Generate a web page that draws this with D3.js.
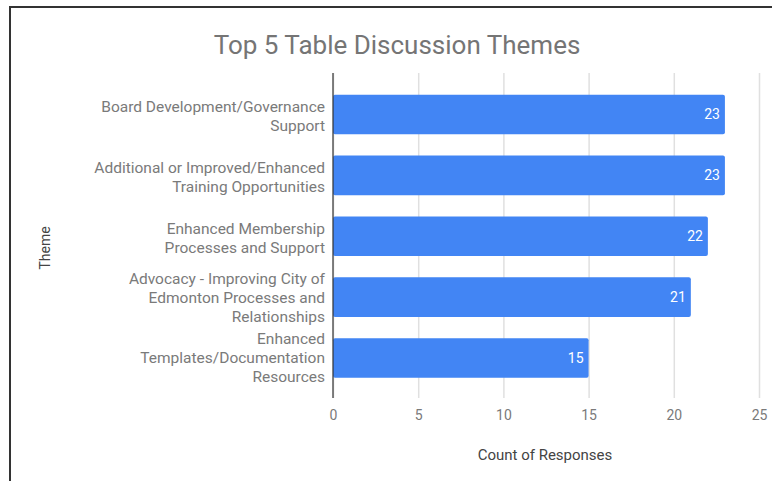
<!DOCTYPE html>
<html>
<head>
<meta charset="utf-8">
<script src="https://cdn.jsdelivr.net/npm/d3@7"></script>
<style>
  body { margin: 0; background: #fff; }
  svg { display: block; font-family: Roboto, Arial, sans-serif; }
</style>
</head>
<body>
<svg id="chart"></svg>
<script>
// chart values
const categories = [
    "Board Development/Governance\nSupport",
    "Additional or Improved/Enhanced\nTraining Opportunities",
    "Enhanced Membership\nProcesses and Support",
    "Advocacy - Improving City of\nEdmonton Processes and\nRelationships",
    "Enhanced\nTemplates/Documentation\nResources"
];
const counts = [23, 23, 22, 21, 15];
const xTicks = [0, 5, 10, 15, 20, 25];

const width = 772, height = 481;
const margin = { top: 73, bottom: 83, left: 333, right: 13 };

const svg = d3.select('#chart')
    .attr('width', width)
    .attr('height', height);

// outer frame (cropped screenshot)
svg.append('rect')
    .attr('x', 10).attr('y', 7)
    .attr('width', 900).attr('height', 600)
    .attr('fill', 'none')
    .attr('stroke', '#333')
    .attr('stroke-width', 2);

const plotBottom = height - margin.bottom;

const xScale = d3.scaleLinear()
    .domain([0, 25])
    .range([margin.left, width - margin.right]);

const yScale = d3.scaleBand()
    .domain(categories)
    .range([margin.top + 11, plotBottom - 9.5])
    .paddingInner(0.35)
    .paddingOuter(0.175);

// gridlines + x tick labels
const xAxis = d3.axisBottom(xScale)
    .tickValues(xTicks)
    .tickSize(-(plotBottom - margin.top))
    .tickPadding(12)
    .tickSizeOuter(0);

const xAxisGroup = svg.append('g')
    .attr('transform', `translate(0,${plotBottom})`)
    .call(xAxis);
xAxisGroup.select('.domain').remove();
xAxisGroup.selectAll('line')
    .attr('stroke', '#e0e0e0')
    .attr('stroke-width', 1.5);
xAxisGroup.selectAll('text')
    .attr('fill', '#7a7a7a')
    .attr('font-size', 14)
    .attr('font-family', 'Roboto, Arial, sans-serif');

// bars
svg.append('g').selectAll('rect')
    .data(counts)
    .join('rect')
        .attr('x', xScale(0))
        .attr('y', (d, i) => yScale(categories[i]))
        .attr('width', d => xScale(d) - xScale(0))
        .attr('height', yScale.bandwidth())
        .attr('rx', 2)
        .attr('fill', '#4285f4');

// zero line
svg.append('line')
    .attr('x1', xScale(0)).attr('x2', xScale(0))
    .attr('y1', margin.top).attr('y2', plotBottom)
    .attr('stroke', '#333')
    .attr('stroke-width', 1.2);

// value labels
svg.append('g').selectAll('text')
    .data(counts)
    .join('text')
        .attr('x', d => xScale(d) - 5)
        .attr('y', (d, i) => yScale(categories[i]) + yScale.bandwidth() / 2)
        .attr('dy', '0.35em')
        .attr('text-anchor', 'end')
        .attr('fill', '#fff')
        .attr('font-size', 14)
        .text(d => d);

// category labels (wrapped)
const lineHeight = 19;
const catLabels = svg.append('g').selectAll('text')
    .data(categories)
    .join('text')
        .attr('text-anchor', 'end')
        .attr('fill', '#7a7a7a')
        .attr('font-size', 15.5);

catLabels.each(function(d) {
    const lines = d.split('\n');
    const cy = yScale(d) + yScale.bandwidth() / 2;
    const y0 = cy - (lines.length - 1) * lineHeight / 2 + (lines.length === 2 ? 2 : 0);
    d3.select(this).selectAll('tspan')
        .data(lines)
        .join('tspan')
            .attr('x', margin.left - 8)
            .attr('y', (l, j) => y0 + j * lineHeight)
            .attr('dy', '0.35em')
            .text(l => l);
});

// title
svg.append('text')
    .attr('x', 397)
    .attr('y', 54)
    .attr('text-anchor', 'middle')
    .attr('fill', '#757575')
    .attr('font-size', 26)
    .text('Top 5 Table Discussion Themes');

// axis titles
svg.append('text')
    .attr('x', 545)
    .attr('y', 455)
    .attr('dy', '0.35em')
    .attr('text-anchor', 'middle')
    .attr('fill', '#444')
    .attr('font-size', 15)
    .text('Count of Responses');

svg.append('text')
    .attr('text-anchor', 'middle')
    .attr('transform', 'translate(45,248) rotate(-90)')
    .attr('dy', '0.35em')
    .attr('fill', '#444')
    .attr('font-size', 14)
    .text('Theme');
</script>
</body>
</html>
